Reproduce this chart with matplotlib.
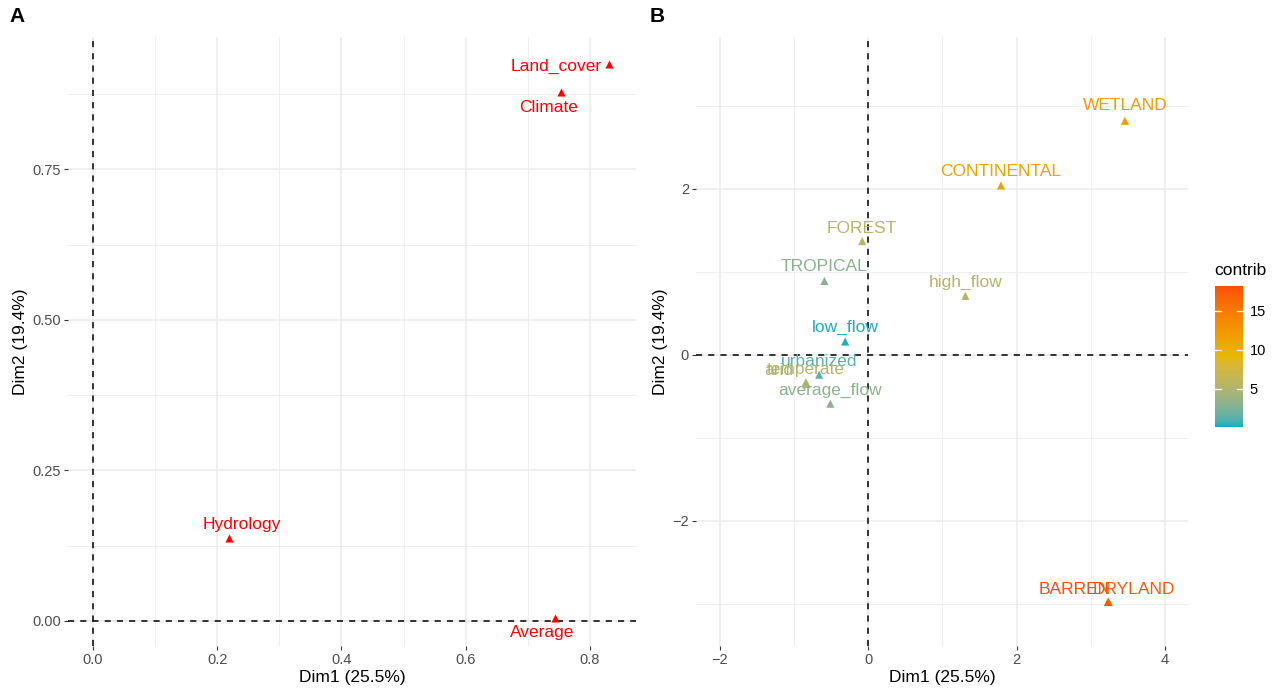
import numpy as np
import matplotlib
matplotlib.use('Agg')
import matplotlib.pyplot as plt
from matplotlib.colors import ListedColormap, Normalize, to_rgb
from matplotlib.ticker import MultipleLocator

plt.rcParams['font.family'] = ['Liberation Sans', 'DejaVu Sans']

# panel A: variables
var_names = ['Land_cover', 'Climate', 'Hydrology', 'Average']
var_dim1 = [0.831, 0.754, 0.219, 0.744]
var_dim2 = [0.925, 0.879, 0.138, 0.005]

# panel B: categories
cat_names = ['WETLAND', 'CONTINENTAL', 'FOREST', 'TROPICAL', 'high_flow', 'low_flow',
             'urbanized', 'temperate', 'arid', 'average_flow', 'BARREN', 'DRYLAND']
cat_dim1 = [3.46, 1.79, -0.08, -0.59, 1.31, -0.31, -0.66, -0.84, -0.83, -0.51, 3.23, 3.24]
cat_dim2 = [2.82, 2.04, 1.37, 0.89, 0.71, 0.16, -0.24, -0.33, -0.35, -0.59, -2.98, -2.98]
cat_contrib = [12.0, 11.4, 5.6, 3.0, 5.4, 0.3, 1.4, 5.2, 5.0, 3.1, 18.2, 17.6]

xlab = 'Dim1 (25.5%)'
ylab = 'Dim2 (19.4%)'

# label offsets in pixels (ggrepel-like placement)
off_a = [(-53, -2), (-13, -16), (13, 13), (-13, -15)]
off_b = [(0, 15), (0, 14), (0, 13), (0, 14), (0, 13), (0, 14),
         (0, 13), (0, 13), (-28, 13), (0, 13), (-33, 13), (25, 13)]

grid_col = '#EBEBEB'
tick_col = '#4D4D4D'
fs_lab = 12.5


# ggplot interpolates gradient colours in Lab space
def rgb2lab(c):
    c = np.array(c, float)
    c = np.where(c > 0.04045, ((c + 0.055) / 1.055) ** 2.4, c / 12.92)
    M = np.array([[0.4124, 0.3576, 0.1805], [0.2126, 0.7152, 0.0722], [0.0193, 0.1192, 0.9505]])
    xyz = M @ c / np.array([0.95047, 1.0, 1.08883])
    f = np.where(xyz > 0.008856, np.cbrt(xyz), 7.787 * xyz + 16 / 116)
    return np.array([116 * f[1] - 16, 500 * (f[0] - f[1]), 200 * (f[1] - f[2])])


def lab2rgb(lab):
    fy = (lab[0] + 16) / 116
    fx = fy + lab[1] / 500
    fz = fy - lab[2] / 200
    f = np.array([fx, fy, fz])
    xyz = np.where(f ** 3 > 0.008856, f ** 3, (f - 16 / 116) / 7.787) * np.array([0.95047, 1.0, 1.08883])
    Mi = np.array([[3.2406, -1.5372, -0.4986], [-0.9689, 1.8758, 0.0415], [0.0557, -0.2040, 1.0570]])
    c = Mi @ xyz
    c = np.where(c > 0.0031308, 1.055 * np.clip(c, 0, None) ** (1 / 2.4) - 0.055, 12.92 * c)
    return np.clip(c, 0, 1)


grad = [rgb2lab(to_rgb(h)) for h in ['#00AFBB', '#E7B800', '#FC4E07']]
cols = []
for t in np.linspace(0, 1, 256):
    seg = min(int(t * 2), 1)
    u = t * 2 - seg
    cols.append(lab2rgb(grad[seg] * (1 - u) + grad[seg + 1] * u))
cmap = ListedColormap(cols)
norm = Normalize(0.13, max(cat_contrib))

fig = plt.figure(figsize=(12.79, 6.97), dpi=100)
W, H = 1279, 697


def px_axes(l, t, r, b):
    return fig.add_axes([l / W, 1 - b / H, (r - l) / W, (b - t) / H])


def style(ax):
    for s in ax.spines.values():
        s.set_visible(False)
    ax.grid(which='major', color=grid_col, lw=1.1, zorder=0)
    ax.grid(which='minor', color=grid_col, lw=0.55, zorder=0)
    ax.tick_params(which='major', length=3, width=0.8, color='#333333',
                   labelcolor=tick_col, labelsize=10.5, pad=2)
    ax.tick_params(which='minor', length=0)
    ax.set_axisbelow(True)
    ax.axhline(0, color='black', ls=(0, (4, 4)), lw=1.1, zorder=1)
    ax.axvline(0, color='black', ls=(0, (4, 4)), lw=1.1, zorder=1)
    ax.set_xlabel(xlab, fontsize=12.5, labelpad=2)
    ax.set_ylabel(ylab, fontsize=12.5, labelpad=3)


# ---- panel A
ax1 = px_axes(68, 37, 636, 646)
ax1.set_xlim(-0.04, 0.874)
ax1.set_ylim(-0.042, 0.970)
ax1.xaxis.set_minor_locator(MultipleLocator(0.1))
ax1.yaxis.set_minor_locator(MultipleLocator(0.125))
ax1.set_xticks([0, 0.2, 0.4, 0.6, 0.8])
ax1.set_xticklabels(['0.0', '0.2', '0.4', '0.6', '0.8'])
ax1.set_yticks([0, 0.25, 0.5, 0.75])
ax1.set_yticklabels(['0.00', '0.25', '0.50', '0.75'])
style(ax1)
ax1.scatter(var_dim1, var_dim2, marker='^', s=34, color='red', zorder=3, lw=0)
for n, x, y, o in zip(var_names, var_dim1, var_dim2, off_a):
    ax1.annotate(n, (x, y), xytext=o, textcoords='offset pixels', ha='center',
                 va='center', color='red', fontsize=fs_lab, zorder=4)

# ---- panel B
ax2 = px_axes(696, 37, 1188, 646)
ax2.set_xlim(-2.32, 4.31)
ax2.set_ylim(-3.51, 3.83)
ax2.xaxis.set_minor_locator(MultipleLocator(1))
ax2.yaxis.set_minor_locator(MultipleLocator(1))
ax2.set_xticks([-2, 0, 2, 4])
ax2.set_xticklabels(['\u22122', '0', '2', '4'])
ax2.set_yticks([-2, 0, 2])
ax2.set_yticklabels(['\u22122', '0', '2'])
style(ax2)
sc = ax2.scatter(cat_dim1, cat_dim2, c=cat_contrib, cmap=cmap, norm=norm,
                 marker='^', s=34, lw=0, zorder=3)
for n, x, y, v, o in zip(cat_names, cat_dim1, cat_dim2, cat_contrib, off_b):
    ax2.annotate(n, (x, y), xytext=o, textcoords='offset pixels', ha='center',
                 va='center', color=cmap(norm(v)), fontsize=fs_lab, zorder=4)

# colorbar
cax = px_axes(1215, 286, 1243, 427)
cb = fig.colorbar(sc, cax=cax)
cb.outline.set_visible(False)
cb.set_ticks([5, 10, 15])
cax.tick_params(length=0, labelsize=10.5, labelcolor='black', pad=5)
for t in [5, 10, 15]:
    cax.plot([0, 0.2], [t, t], color='white', lw=0.9, transform=cax.get_yaxis_transform())
    cax.plot([0.8, 1], [t, t], color='white', lw=0.9, transform=cax.get_yaxis_transform())
fig.text(1214 / W, 1 - 270 / H, 'contrib', fontsize=12.5, va='center', ha='left')

fig.text(9 / W, 1 - 17 / H, 'A', fontsize=15, fontweight='bold', va='center')
fig.text(650 / W, 1 - 17 / H, 'B', fontsize=15, fontweight='bold', va='center')

fig.savefig('out.png', dpi=100)
